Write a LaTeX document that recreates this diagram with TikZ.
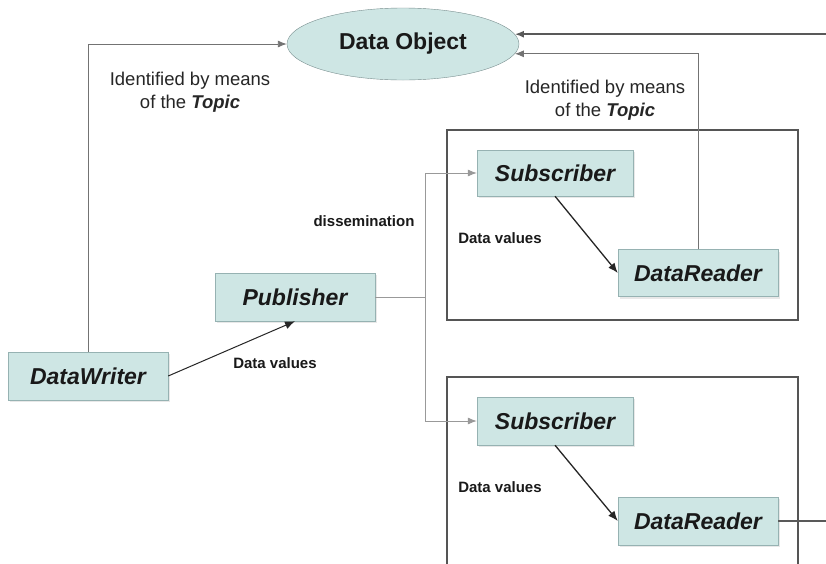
\documentclass[tikz,border=0pt]{standalone}
\usepackage{fontspec}
\setmainfont{Liberation Sans}
\usepackage{tikz}
\usetikzlibrary{arrows.meta,shapes.geometric,shadows}

\definecolor{boxfill}{RGB}{206,230,228}
\definecolor{boxline}{RGB}{150,178,178}
\definecolor{framegray}{RGB}{85,85,85}

\tikzset{
  entity/.style={draw=boxline,fill=boxfill,minimum width=160pt,minimum height=48pt,
    font=\fontsize{23}{26}\selectfont\bfseries\itshape,text=black!90,
    drop shadow={opacity=0.18,shadow xshift=2pt,shadow yshift=-2pt}},
  topicobj/.style={ellipse,draw=boxline!80!black,fill=boxfill,minimum width=232pt,
    minimum height=72pt,font=\fontsize{23}{26}\selectfont\bfseries,text=black!90},
  link/.style={draw=black!55,line width=0.9pt,-{Latex[length=9pt,width=7pt]}},
  spread/.style={draw=black!40,line width=0.8pt,-{Latex[length=9pt,width=7pt]}},
  flow/.style={draw=black!85,line width=1.3pt,-{Latex[length=10pt,width=8pt]}},
  remark/.style={font=\fontsize{18.5}{23}\selectfont,align=center,text=black!85},
  tag/.style={font=\fontsize{15}{18}\selectfont\bfseries,text=black!90},
  group/.style={draw=framegray,line width=1.6pt}
}

\begin{document}
\begin{tikzpicture}[>=Latex,x=1pt,y=-1pt]
  % Configurable parameters
  \def\W{826}
  \def\H{563}
  \def\frameL{447}
  \def\frameR{798}
  %
  % Canvas
  \clip (0,0) rectangle (\W,\H);
  \fill[white] (0,0) rectangle (\W,\H);
  %
  % Subscriber groups
  \draw[group] (\frameL,130) rectangle (\frameR,320);
  \draw[group] (\frameL,377) rectangle (\frameR,600);
  %
  % Entities
  \node[topicobj] (obj) at (403,44) {Data Object};
  \node[entity] (writer) at (88,376) {DataWriter};
  \node[entity] (pub) at (295,297) {Publisher};
  \node[entity,minimum width=156pt,minimum height=46pt] (subA) at (555,173) {Subscriber};
  \node[entity,minimum height=47pt] (readA) at (698,273) {DataReader};
  \node[entity,minimum width=156pt] (subB) at (555,421) {Subscriber};
  \node[entity] (readB) at (698,521) {DataReader};
  %
  % Topic links
  \draw[link] (writer.north) |- (obj.west);
  \draw[link] (readA.north) |- (obj.-5);
  \draw[link,draw=black!65,line width=1.6pt] (readB.east) -- ++(60,0) |- (obj.5);
  %
  % Data flow
  \draw[flow,line width=1pt] (writer.east) -- (pub.south);
  \draw[flow] (subA.south) -- (readA.west);
  \draw[flow] (subB.south) -- (readB.west);
  %
  % Dissemination
  \draw[spread] (pub.east) -- ++(50,0) |- (subA.west);
  \draw[spread] (pub.east) -- ++(50,0) |- (subB.west);
  %
  % Labels
  \node[remark] (idw) at (190,92) {Identified by means\\of the \textbf{\textit{Topic}}};
  \node[remark] (idr) at (605,100) {Identified by means\\of the \textbf{\textit{Topic}}};
  \node[tag] (diss) at (364,221) {dissemination};
  \node[tag] (dvw) at (275,363) {Data values};
  \node[tag] (dva) at (500,238) {Data values};
  \node[tag] (dvb) at (500,487) {Data values};
  %
\end{tikzpicture}
\end{document}
